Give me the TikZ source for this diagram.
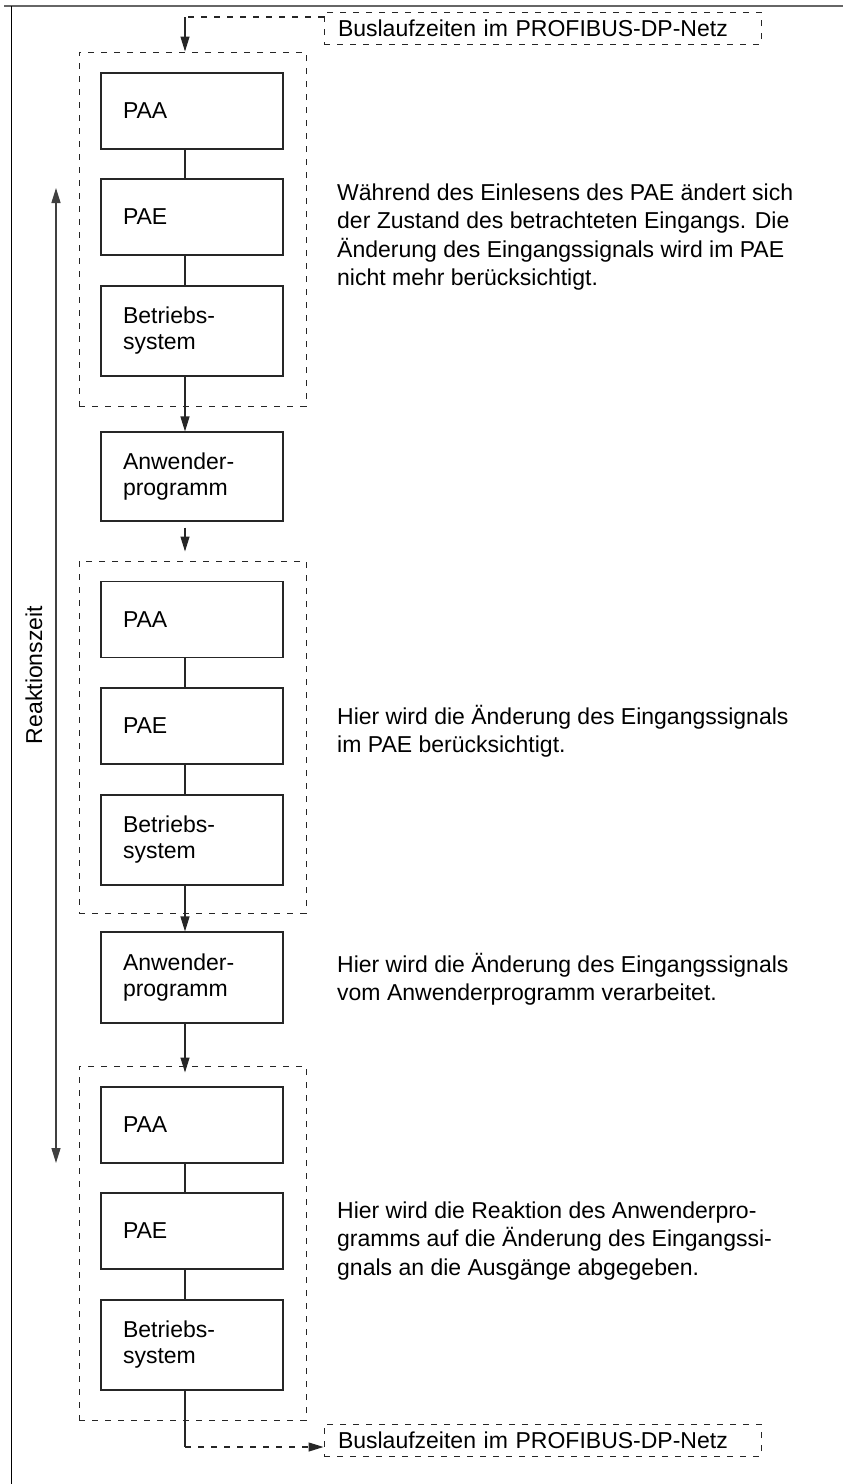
\documentclass[tikz,border=0pt]{standalone}
\usepackage{fontspec}
\setmainfont{Liberation Sans}
\usetikzlibrary{arrows.meta,calc}
\begin{document}
\begin{tikzpicture}[x=1pt,y=-1pt,
  every node/.style={font=\fontsize{23}{26}\selectfont},
  blk/.style={draw=black!85, line width=1.1pt, minimum width=182pt, text width=138pt,
    inner xsep=22pt, inner ysep=0pt, align=left},
  grp/.style={draw=black!85, line width=1pt, dash pattern=on 6pt off 7pt,
    minimum width=227pt, inner sep=0pt},
  busbox/.style={draw=black!85, line width=1pt, dash pattern=on 6pt off 7pt,
    minimum width=437pt, minimum height=32pt, text width=409pt, inner xsep=14pt,
    inner ysep=0pt, align=left},
  link/.style={draw=black!85, line width=1.1pt},
  dlink/.style={link, dash pattern=on 6pt off 7pt},
  tip/.tip={Triangle[length=15pt,width=9pt]},
  arr/.style={link, -tip},
  note/.style={anchor=north west, align=left, inner sep=0pt,
    font=\fontsize{23}{28.5}\selectfont},
]
\useasboundingbox (0,0) rectangle (843,1484);

% outer frame (top and left edges)
\draw[black!60, line width=1.6pt] (4,6) -- (843,6);
\draw[black, line width=1pt] (11,6) -- (11,1484);

% bus boxes
\node[busbox] (bus1) at (542.5,28) {Buslaufzeiten im PROFIBUS-DP-Netz};
\node[busbox] (bus2) at (542.5,1440) {Buslaufzeiten im PROFIBUS-DP-Netz};

% dashed cycle groups
\node[grp, minimum height=354pt] (g1) at (192.5,229) {};
\node[grp, minimum height=352pt] (g2) at (192.5,737) {};
\node[grp, minimum height=354pt] (g3) at (192.5,1243) {};

% cycle 1
\node[blk, minimum height=76pt] (paa1) at (192,111) {PAA};
\node[blk, minimum height=76pt] (pae1) at (192,217) {PAE};
\node[blk, minimum height=90pt] (bs1) at (192,331) {Betriebs-\\system};
\node[blk, minimum height=89pt] (an1) at (192,476.5) {Anwender-\\programm};

% cycle 2
\node[blk, minimum height=76pt] (paa2) at (192,619.5) {PAA};
\node[blk, minimum height=76pt] (pae2) at (192,726) {PAE};
\node[blk, minimum height=90pt] (bs2) at (192,840) {Betriebs-\\system};
\node[blk, minimum height=91pt] (an2) at (192,977.5) {Anwender-\\programm};

% cycle 3
\node[blk, minimum height=76pt] (paa3) at (192,1125) {PAA};
\node[blk, minimum height=76pt] (pae3) at (192,1231) {PAE};
\node[blk, minimum height=90pt] (bs3) at (192,1345) {Betriebs-\\system};

% flow axis and bends
\coordinate (ax) at (185,0);
\coordinate (k1) at (185,17);
\coordinate (k2) at (185,1447);

\draw[dlink] (bus1.west |- k1) -- (k1);
\draw[arr] (k1) -- (g1.north -| ax);

\draw[link] (paa1.south -| ax) -- (pae1.north -| ax);
\draw[link] (pae1.south -| ax) -- (bs1.north -| ax);
\draw[arr] (bs1.south -| ax) -- (an1.north -| ax);
\draw[arr] ($(an1.south -| ax)+(0,6)$) -- ($(g2.north -| ax)+(0,-9)$);

\draw[link] (paa2.south -| ax) -- (pae2.north -| ax);
\draw[link] (pae2.south -| ax) -- (bs2.north -| ax);
\draw[arr] (bs2.south -| ax) -- (an2.north -| ax);
\draw[arr] (an2.south -| ax) -- ($(g3.north -| ax)+(0,7)$);

\draw[link] (paa3.south -| ax) -- (pae3.north -| ax);
\draw[link] (pae3.south -| ax) -- (bs3.north -| ax);
\draw[link] (bs3.south -| ax) -- (k2);
\draw[dlink, -tip] (k2) -- (bus2.west |- k2);

% reaction time
\coordinate (rt) at (56,188);
\coordinate (rb) at (56,1163);
\draw[black!75, line width=1.4pt, tip-tip] (rt) -- (rb);
\node[rotate=90] (rz) at (34,675) {Reaktionszeit};

% explanations
\node[note] (t1) at (337,180) {\strut W\"ahrend des Einlesens des PAE \"andert sich\\der Zustand des betrachteten Eingangs. Die\\\"Anderung des Eingangssignals wird im PAE\\nicht mehr ber\"ucksichtigt.};
\node[note] (t2) at (337,704) {\strut Hier wird die \"Anderung des Eingangssignals\\im PAE ber\"ucksichtigt.};
\node[note] (t3) at (337,952) {\strut Hier wird die \"Anderung des Eingangssignals\\vom Anwenderprogramm verarbeitet.};
\node[note] (t4) at (337,1198) {\strut Hier wird die Reaktion des Anwenderpro-\\gramms auf die \"Anderung des Eingangssi-\\gnals an die Ausg\"ange abgegeben.};
\end{tikzpicture}
\end{document}
